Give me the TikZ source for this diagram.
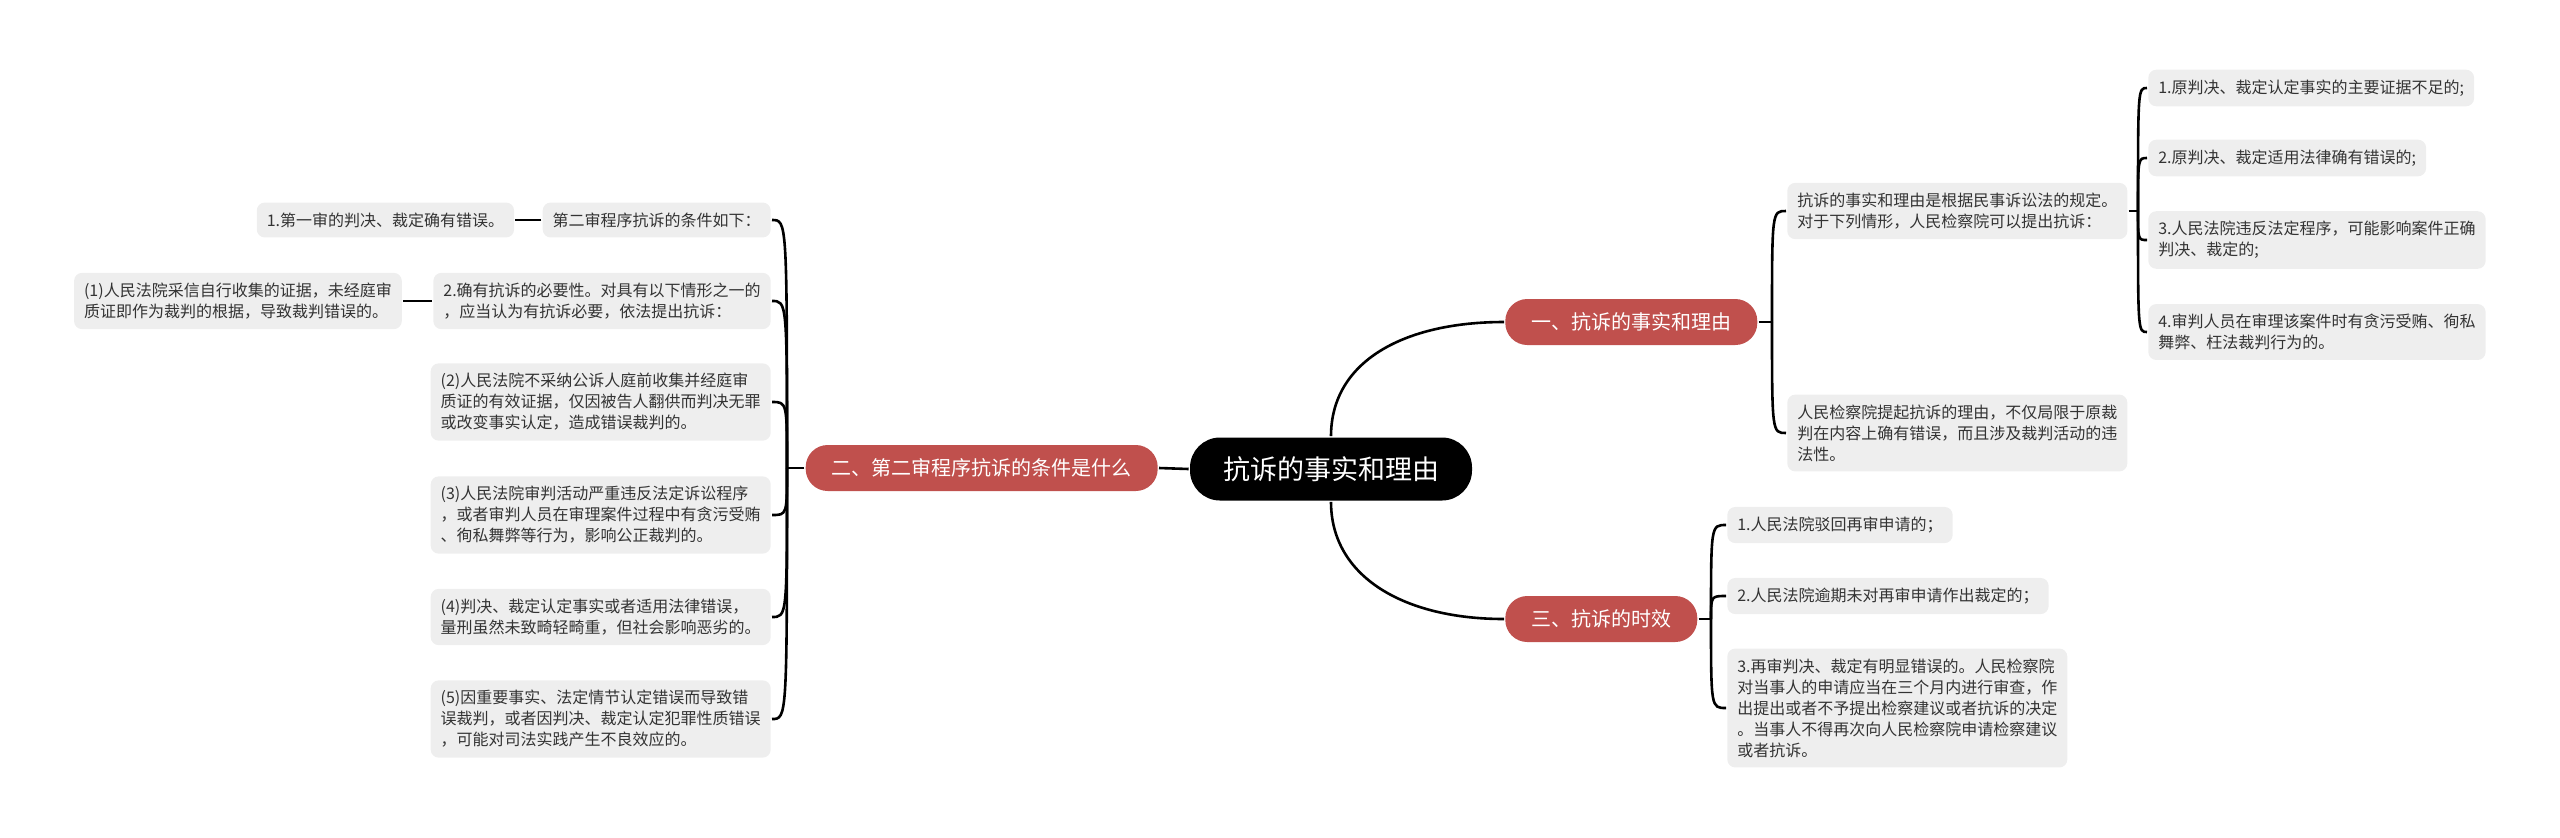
\documentclass[tikz,border=0pt]{standalone}
\usepackage{fontspec}
\setmainfont{Noto Sans CJK SC}
\usetikzlibrary{positioning}
\definecolor{cred}{HTML}{C0504D}
\definecolor{cleaf}{HTML}{EEEEEE}
\definecolor{ctext}{HTML}{333333}
\tikzset{
  every picture/.style={line width=1.3pt},
  rootbox/.style={fill=black, text=white, rounded corners=15pt, minimum height=31.5pt, inner xsep=16.5pt, font=\fontsize{13.5}{16}\selectfont},
  branch/.style={fill=cred, text=white, rounded corners=11pt, minimum height=23pt, inner xsep=13pt, font=\fontsize{10}{12}\selectfont},
  leaf/.style={fill=cleaf, text=ctext, rounded corners=4pt, inner xsep=5pt, inner ysep=5pt, align=left, font=\fontsize{8}{10.5}\selectfont},
  link/.style={draw=black, line width=1.3pt},
}

\begin{document}
\begin{tikzpicture}[x=0.5pt, y=-0.5pt]
  \useasboundingbox (0,0) rectangle (2560,837);
  % centre and main branches
  \node[rootbox] (root) at (1331,469) {抗诉的事实和理由};
  \node[branch, anchor=west] (b1) at (1504,322) {一、抗诉的事实和理由};
  \node[branch, anchor=east] (b2) at (1159,468) {二、第二审程序抗诉的条件是什么};
  \node[branch, anchor=west] (b3) at (1504,619) {三、抗诉的时效};
  \draw[link] (root.west) -- (b2.east);
  \draw[link] (root.north) .. controls +(0,-75) and +(-100,0) .. (b1.west);
  \draw[link] (root.south) .. controls +(0,75) and +(-100,0) .. (b3.west);

  % branch one
  \node[leaf, anchor=west] (A) at (1786,211) {抗诉的事实和理由是根据民事诉讼法的规定。\\对于下列情形，人民检察院可以提出抗诉：};
  \node[leaf, anchor=west] (B) at (1786,433) {人民检察院提起抗诉的理由，不仅局限于原裁\\判在内容上确有错误，而且涉及裁判活动的违\\法性。};
  \node[leaf, anchor=west] (A1) at (2147,88) {1.原判决、裁定认定事实的主要证据不足的;};
  \node[leaf, anchor=west] (A2) at (2147,158) {2.原判决、裁定适用法律确有错误的;};
  \node[leaf, anchor=west] (A3) at (2147,240) {3.人民法院违反法定程序，可能影响案件正确\\判决、裁定的;};
  \node[leaf, anchor=west] (A4) at (2147,332) {4.审判人员在审理该案件时有贪污受贿、徇私\\舞弊、枉法裁判行为的。};
  \coordinate (j1) at (1772,322);
  \draw[link] (b1.east) -- (j1);
  \foreach \c in {A,B}
    \draw[link] (j1) .. controls (j1 |- \c.west) .. (\c.west);
  \coordinate (ja) at (2138,211);
  \draw[link] (A.east) -- (ja);
  \foreach \c in {A1,A2,A3,A4}
    \draw[link] (ja) .. controls (ja |- \c.west) .. (\c.west);

  % branch three
  \node[leaf, anchor=west] (C1) at (1726,525) {1.人民法院驳回再审申请的；};
  \node[leaf, anchor=west] (C2) at (1726,596) {2.人民法院逾期未对再审申请作出裁定的；};
  \node[leaf, anchor=west] (C3) at (1726,708) {3.再审判决、裁定有明显错误的。人民检察院\\对当事人的申请应当在三个月内进行审查，作\\出提出或者不予提出检察建议或者抗诉的决定\\。当事人不得再次向人民检察院申请检察建议\\或者抗诉。};
  \coordinate (j3) at (1711,619);
  \draw[link] (b3.east) -- (j3);
  \foreach \c in {C1,C2,C3}
    \draw[link] (j3) .. controls (j3 |- \c.west) .. (\c.west);

  % branch two
  \node[leaf, anchor=east] (L0) at (772,220) {第二审程序抗诉的条件如下：};
  \node[leaf, left=13pt of L0] (L0a) {1.第一审的判决、裁定确有错误。};
  \node[leaf, anchor=east] (L1) at (772,301) {2.确有抗诉的必要性。对具有以下情形之一的\\，应当认为有抗诉必要，依法提出抗诉：};
  \node[leaf, left=14.5pt of L1] (L1a) {(1)人民法院采信自行收集的证据，未经庭审\\质证即作为裁判的根据，导致裁判错误的。};
  \node[leaf, anchor=east] (L2) at (772,402) {(2)人民法院不采纳公诉人庭前收集并经庭审\\质证的有效证据，仅因被告人翻供而判决无罪\\或改变事实认定，造成错误裁判的。};
  \node[leaf, anchor=east] (L3) at (772,515) {(3)人民法院审判活动严重违反法定诉讼程序\\，或者审判人员在审理案件过程中有贪污受贿\\、徇私舞弊等行为，影响公正裁判的。};
  \node[leaf, anchor=east] (L4) at (772,617) {(4)判决、裁定认定事实或者适用法律错误，\\量刑虽然未致畸轻畸重，但社会影响恶劣的。};
  \node[leaf, anchor=east] (L5) at (772,719) {(5)因重要事实、法定情节认定错误而导致错\\误裁判，或者因判决、裁定认定犯罪性质错误\\，可能对司法实践产生不良效应的。};
  \coordinate (j2) at (787,468);
  \draw[link] (b2.west) -- (j2);
  \foreach \c in {L0,L1,L2,L3,L4,L5}
    \draw[link] (j2) .. controls (j2 |- \c.east) .. (\c.east);
  \draw[link] (L0.west) -- (L0a.east);
  \draw[link] (L1.west) -- (L1a.east);
\end{tikzpicture}
\end{document}
